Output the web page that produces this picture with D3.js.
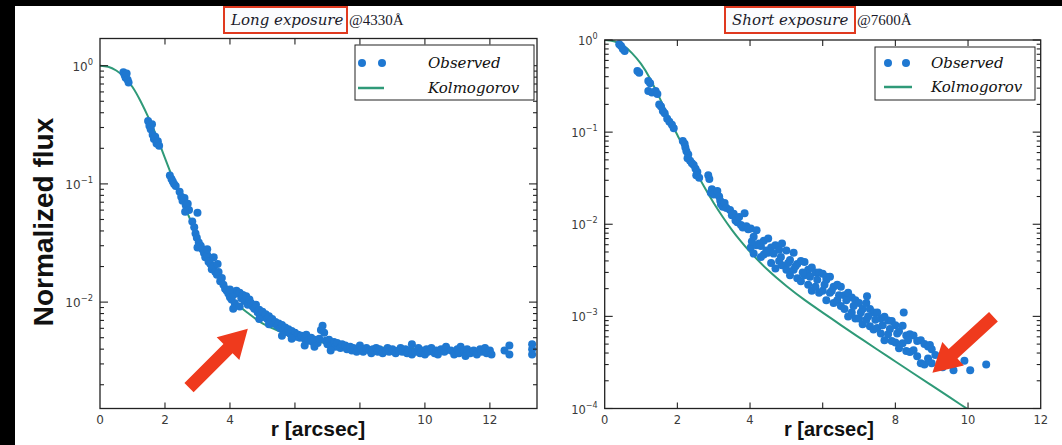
<!DOCTYPE html>
<html><head><meta charset="utf-8">
<script src="https://cdn.jsdelivr.net/npm/d3@7"></script>
<style>body{margin:0;background:#fff}svg{display:block}</style>
</head><body>
<svg id="c" width="1062" height="445"></svg>
<script>
// ---------------- DATA ----------------
const xTicks = [0, 2, 4, 6, 8, 10, 12];
const leftHiddenXTickLabels = [6, 8];   // covered by the axis title in the original
const rightHiddenXTickLabels = [6];
const leftYExps = [0, -1, -2];
const rightYExps = [0, -1, -2, -3, -4];
const legendLabels = ["Observed", "Kolmogorov"];
const titlesItalic = ["Long exposure", "Short exposure"];
const titlesWave = ["@4330Å", "@7600Å"];

// Kolmogorov model, left (long exposure @4330Å): [r, flux]
const leftModel = [[0,1],[0.25,0.98],[0.5,0.91],[0.75,0.8],[1,0.66],[1.25,0.5],[1.5,0.36],[1.75,0.25],[2,0.165],[2.25,0.11],[2.5,0.075],[2.75,0.052],[3,0.037],[3.25,0.027],[3.5,0.020],[3.75,0.0145],[4,0.0112],[4.3,0.0092],[4.6,0.0079],[5,0.0066],[5.5,0.0057],[6,0.0051],[6.5,0.0047],[7,0.0045],[8,0.0042],[9,0.0041],[10,0.0040],[11,0.0039],[12,0.0039]];

// Observed, left: [r, flux]
const leftObserved = [
[0.72,0.88],[0.76,0.83],[0.79,0.79],[0.82,0.86],[0.85,0.76],[0.88,0.72],
[1.48,0.34],[1.52,0.31],[1.56,0.29],[1.6,0.32],[1.62,0.26],[1.66,0.24],[1.7,0.25],[1.74,0.22],[1.78,0.23],[1.82,0.21],
[2.15,0.118],[2.2,0.11],[2.24,0.105],[2.28,0.10],[2.33,0.096],
[2.45,0.086],[2.5,0.078],[2.54,0.072],[2.6,0.076],[2.64,0.066],[2.7,0.068],[2.74,0.06],[2.62,0.058],[3.0,0.057],
[2.84,0.048],[2.9,0.043],[2.94,0.038],[2.98,0.035],[3.04,0.032],[3.1,0.03],[3.0,0.029],
[3.15,0.028],[3.2,0.026],[3.24,0.024],[3.3,0.025],[3.34,0.022],[3.4,0.021],[3.44,0.019],[3.5,0.020],[3.55,0.018],[3.6,0.017],[3.65,0.018],[3.7,0.015],[3.75,0.016],[3.8,0.014],[3.85,0.013],[3.3,0.028],[3.5,0.024],[3.62,0.021],
[3.9,0.0125],[3.95,0.0118],[4.0,0.011],[4.05,0.0105],[4.1,0.0115],[4.15,0.0098],[4.2,0.0125],[4.25,0.0118],[4.3,0.012],[4.35,0.0108],[4.4,0.0115],[4.45,0.0102],[4.5,0.0112],[4.55,0.0095],[4.6,0.0105],[4.1,0.0088],[4.3,0.0092],[4.0,0.0128],
[4.65,0.0098],[4.7,0.0092],[4.75,0.0088],[4.8,0.0095],[4.85,0.0082],[4.9,0.0086],[4.95,0.0078],[5.0,0.0083],[5.05,0.0075],[5.1,0.0079],[5.15,0.0072],[5.2,0.0076],[5.25,0.0069],[5.3,0.0072],[5.35,0.0066],[5.4,0.0068],[5.45,0.0063],[4.9,0.0072],[5.2,0.0065],
[5.5,0.0066],[5.55,0.0060],[5.6,0.0064],[5.65,0.0058],[5.7,0.0061],[5.75,0.0056],[5.8,0.0059],[5.85,0.0054],[5.9,0.0057],[5.95,0.0052],[6.0,0.0055],[6.05,0.0051],[6.1,0.0053],[6.15,0.0050],[5.6,0.0052],[5.9,0.0049],
[6.2,0.0052],[6.3,0.0049],[6.35,0.0053],[6.4,0.0047],[6.5,0.0050],[6.55,0.0046],[6.6,0.0048],[6.7,0.0045],[6.75,0.0049],[6.8,0.0058],[6.85,0.0063],[6.9,0.0055],[6.95,0.0047],[7.0,0.0044],[7.05,0.0048],[7.1,0.0043],[7.2,0.0046],[7.25,0.0042],[7.3,0.0045],[7.4,0.0041],[7.45,0.0044],[6.3,0.0043],[6.6,0.0042],[7.1,0.0039],
[7.55,0.0043],[7.6,0.0040],[7.7,0.0042],[7.75,0.0039],[7.8,0.0041],[7.9,0.0038],[8.0,0.0043],[8.05,0.0040],[8.1,0.0038],[8.2,0.0041],[8.3,0.0039],[8.35,0.0037],[8.4,0.0040],[8.5,0.0041],[8.55,0.0038],[8.6,0.0040],[8.7,0.0037],[8.8,0.0039],[8.85,0.0041],[8.9,0.0038],[9.0,0.0040],[9.1,0.0037],[9.2,0.0039],[9.25,0.0041],[9.3,0.0038],[9.4,0.0040],[9.45,0.0037],[9.5,0.0039],[9.6,0.0036],[9.6,0.0044],[9.7,0.0038],[9.8,0.0041],[9.85,0.0037],[9.9,0.0039],[10.0,0.0036],[10.05,0.0040],[10.1,0.0038],[10.2,0.0041],[10.3,0.0037],[10.35,0.0039],[10.4,0.0036],[10.5,0.0040],[10.6,0.0038],[10.65,0.0042],
[10.8,0.0039],[10.9,0.0036],[11.0,0.0040],[11.05,0.0037],[11.1,0.0042],[11.2,0.0038],[11.25,0.0035],[11.3,0.0040],[11.4,0.0037],[11.5,0.0039],[11.6,0.0036],[11.7,0.0040],[11.75,0.0038],[11.85,0.0041],[11.9,0.0037],[12.0,0.0039],[12.05,0.0036],
[12.6,0.0043],[12.45,0.0039],[12.6,0.0036],
[13.3,0.0044],[13.3,0.0040],[13.3,0.0036]
];

// Kolmogorov model, right (short exposure @7600Å): [r, flux]
const rightModel = [[0,1],[0.25,0.97],[0.5,0.88],[0.75,0.72],[1,0.55],[1.25,0.38],[1.5,0.24],[1.75,0.15],[2,0.093],[2.25,0.06],[2.5,0.038],[2.75,0.025],[3,0.017],[3.25,0.012],[3.5,0.0087],[3.75,0.0065],[4,0.00501],[4.5,0.00316],[5,0.00214],[5.5,0.00151],[6,0.0011],[6.5,0.000804],[7,0.000592],[7.5,0.000437],[8,0.000324],[8.5,0.00024],[9,0.000178],[9.5,0.000132],[10,0.0000977],[10.5,0.0000724]];

// Observed, right: [r, flux]
const rightObserved = [
[0.4,0.9],[0.45,0.86],[0.5,0.8],[0.55,0.76],
[0.9,0.46],[0.95,0.44],
[1.2,0.36],[1.25,0.34],[1.2,0.28],[1.3,0.27],[1.4,0.28],[1.45,0.26],
[1.5,0.2],[1.55,0.19],[1.6,0.17],[1.65,0.16],[1.72,0.14],[1.78,0.13],[1.85,0.12],[1.9,0.11],
[2.15,0.08],[2.2,0.075],[2.22,0.068],[2.25,0.062],[2.3,0.057],[2.28,0.052],[2.35,0.049],[2.4,0.046],[2.45,0.044],[2.5,0.04],[2.55,0.037],[2.52,0.034],[2.6,0.032],
[2.85,0.034],[2.88,0.031],
[2.92,0.022],[2.95,0.024],[3.0,0.021],[3.1,0.023],[3.15,0.02],[3.18,0.018],[3.2,0.0165],[3.25,0.0155],[3.3,0.017],[3.35,0.015],[3.45,0.0143],[3.5,0.0125],[3.55,0.013],[3.6,0.011],[3.65,0.0105],[3.7,0.012],[3.85,0.0132],[3.75,0.0098],[3.8,0.0092],[3.9,0.0095],[3.95,0.0088],
[4.02,0.0090],[4.02,0.0056],[4.1,0.0073],[4.1,0.0048],[4.18,0.0086],[4.18,0.0059],[4.3,0.0058],[4.3,0.0044],[4.38,0.0066],[4.38,0.0047],[4.5,0.0070],[4.5,0.0049],[4.58,0.0038],[4.58,0.0056],[4.7,0.0059],[4.7,0.0033],[4.8,0.0053],[4.8,0.0040],[4.88,0.0062],[4.88,0.0036],
[5.0,0.0052],[5.0,0.0032],[5.1,0.0041],[5.1,0.0028],[5.2,0.0049],[5.2,0.0032],[5.3,0.0037],[5.3,0.0026],[5.4,0.0040],[5.4,0.0024],[5.5,0.0039],[5.5,0.0028],[5.6,0.0022],[5.6,0.0032],[5.7,0.0034],[5.7,0.0019],[5.8,0.0030],[5.8,0.0021],[5.9,0.0030],[5.9,0.0018],
[6.0,0.0029],[6.0,0.0019],[6.1,0.0025],[6.1,0.0015],[6.1,0.0027],[6.2,0.0027],[6.2,0.0018],[6.3,0.0021],[6.3,0.0014],[6.4,0.0022],[6.4,0.0015],[6.5,0.0021],[6.5,0.0013],[6.6,0.0012],[6.6,0.0017],[6.7,0.0018],[6.7,0.0010],[6.8,0.0016],[6.8,0.0011],[6.9,0.0015],[6.9,0.00095],
[7.0,0.0014],[7.0,0.00095],[7.1,0.0012],[7.1,0.00082],[7.2,0.0014],[7.2,0.00092],[7.22,0.00165],[7.3,0.0012],[7.3,0.00078],[7.4,0.0011],[7.4,0.00072],[7.5,0.0011],[7.5,0.00075],[7.6,0.00065],[7.6,0.00095],[7.7,0.00099],[7.7,0.00055],[7.8,0.00090],[7.8,0.00064],[7.9,0.00089],[7.9,0.00054],
[8.0,0.00080],[8.0,0.00052],[8.1,0.00069],[8.1,0.00045],[8.2,0.00079],[8.2,0.00051],[8.23,0.0011],[8.3,0.00062],[8.3,0.00042],[8.4,0.00064],[8.4,0.00041],[8.5,0.00062],[8.5,0.00043],[8.6,0.00037],[8.6,0.00054],[8.7,0.00055],[8.7,0.00031],[8.8,0.00050],[8.8,0.00030],[8.9,0.00047],[8.9,0.00035],[8.95,0.00049],
[9.0,0.00044],[9.0,0.00031],[9.1,0.00038],[9.3,0.00033],[9.3,0.00028],[9.6,0.00026],[9.9,0.00033],[10.06,0.00026],[10.5,0.0003],
[4.05,0.0065],[4.25,0.0062],[4.45,0.0052],[4.65,0.0048],[4.85,0.0044],[5.05,0.0038],[5.25,0.0035],[5.45,0.0030],[5.65,0.0027],[5.85,0.0025],[6.05,0.0022],[6.25,0.0019],[6.45,0.0017],[6.65,0.0015],[6.85,0.0013],[7.05,0.0011],[7.25,0.0010],[7.45,0.00092],[7.65,0.00080],[7.85,0.00073],[8.05,0.00065],[8.35,0.00055]
];

// Arrow annotations in data space: [tail r, tail flux, tip r, tip flux]
const leftArrow = [2.74, 0.00189, 4.55, 0.00594];
const rightArrow = [10.7, 0.00099, 9.02, 0.000245];

// ---------------- DRAW ----------------
const svg = d3.select('#c');
svg.append('rect').attr('width',1062).attr('height',445).attr('fill','#fff');
svg.append('rect').attr('x',0).attr('y',0).attr('width',1062).attr('height',6).attr('fill','#000');
svg.append('rect').attr('x',0).attr('y',0).attr('width',15).attr('height',445).attr('fill','#000');

const DOT = '#1f78d1', LINE = '#2f9a78', RED = '#ef3a1d', AX = '#222';

const panels = [
  {key:'L', obs:leftObserved, model:leftModel, yExps:leftYExps, arrow:leftArrow, hidden:leftHiddenXTickLabels,
   xDomain:[0,13.45], yDomain:[Math.pow(10,-2.9), Math.pow(10,0.23)],
   box:{l:100,r:537,t:38.5,b:408.5}, tickFont:12, labelFont:21, xLabelX:318,
   title:{boxX:224,boxW:123,textX:231,waveX:349},
   legend:{x:355,y:45,w:179,h:55,dot1:362,dot2:382,lineX1:358,lineX2:384,textX:428,row1:63,row2:88}},
  {key:'R', obs:rightObserved, model:rightModel, yExps:rightYExps, arrow:rightArrow, hidden:rightHiddenXTickLabels,
   xDomain:[0,12], yDomain:[1e-4,1],
   box:{l:604.7,r:1040.7,t:40,b:408.5}, tickFont:11.5, labelFont:20, xLabelX:829,
   title:{boxX:725,boxW:130,textX:732,waveX:857},
   legend:{x:875,y:47,w:160,h:53,dot1:888,dot2:906,lineX1:884,lineX2:912,textX:931,row1:63,row2:87}}
];

panels.forEach((p, i) => {
  const b = p.box;
  const g = svg.append('g');
  const x = d3.scaleLinear().domain(p.xDomain).range([b.l, b.r]);
  const y = d3.scaleLog().domain(p.yDomain).range([b.b, b.t]);

  const clipId = 'clip' + p.key;
  g.append('clipPath').attr('id', clipId).append('rect')
    .attr('x', b.l).attr('y', b.t).attr('width', b.r - b.l).attr('height', b.b - b.t);
  const plot = g.append('g').attr('clip-path', `url(#${clipId})`);

  // model curve
  const line = d3.line().x(d => x(d[0])).y(d => y(d[1])).curve(d3.curveNatural);
  plot.append('path').datum(p.model).attr('d', line)
    .attr('fill','none').attr('stroke', LINE).attr('stroke-width', 2);

  // observed points
  plot.selectAll('circle.obs').data(p.obs).enter().append('circle')
    .attr('class','obs')
    .attr('cx', d => x(d[0])).attr('cy', d => y(d[1])).attr('r', 4)
    .attr('fill', DOT);

  // arrow annotation
  const [r0, f0, r1, f1] = p.arrow;
  const x0 = x(r0), y0 = y(f0), x1 = x(r1), y1 = y(f1);
  const dx = x1 - x0, dy = y1 - y0, len = Math.hypot(dx, dy);
  const ux = dx/len, uy = dy/len, nx = -uy, ny = ux;
  const sw = 6.5, hw = 16, hl = 28;
  const bx = x1 - ux*hl, by = y1 - uy*hl;
  const pts = [
    [x0 + nx*sw, y0 + ny*sw], [bx + nx*sw, by + ny*sw], [bx + nx*hw, by + ny*hw],
    [x1, y1], [bx - nx*hw, by - ny*hw], [bx - nx*sw, by - ny*sw], [x0 - nx*sw, y0 - ny*sw]
  ];
  g.append('path').attr('d', 'M' + pts.map(q => q.join(',')).join('L') + 'Z').attr('fill', RED);

  // frame
  g.append('rect').attr('x', b.l).attr('y', b.t).attr('width', b.r - b.l).attr('height', b.b - b.t)
    .attr('fill','none').attr('stroke', AX).attr('stroke-width', 1.3);

  // x ticks (inward, bottom and top)
  const ticks = g.append('g').attr('stroke', AX).attr('stroke-width', 1.1);
  xTicks.forEach(v => {
    const xv = x(v);
    if (xv > b.l + 1 && xv < b.r - 1) {
      ticks.append('line').attr('x1', xv).attr('x2', xv).attr('y1', b.b).attr('y2', b.b - 6);
      ticks.append('line').attr('x1', xv).attr('x2', xv).attr('y1', b.t).attr('y2', b.t + 6);
    }
    if (p.hidden.includes(v)) return;
    g.append('text').attr('x', xv).attr('y', b.b + 15).attr('text-anchor','middle')
      .attr('font-family','DejaVu Sans, sans-serif').attr('font-size', p.tickFont).attr('fill','#3a3a3a')
      .text(v);
  });

  // y log ticks
  const [lo, hi] = p.yDomain;
  const eLo = Math.floor(Math.log10(lo)), eHi = Math.ceil(Math.log10(hi));
  for (let e = eLo; e <= eHi; e++) {
    for (let m = 1; m <= 9; m++) {
      const v = m * Math.pow(10, e);
      if (v < lo * 0.999 || v > hi * 1.001) continue;
      const yv = y(v), L = m === 1 ? 8 : 4;
      ticks.append('line').attr('x1', b.l).attr('x2', b.l + L).attr('y1', yv).attr('y2', yv);
      ticks.append('line').attr('x1', b.r).attr('x2', b.r - L).attr('y1', yv).attr('y2', yv);
    }
  }
  p.yExps.forEach(e => {
    const yv = y(Math.pow(10, e));
    const t = g.append('text').attr('x', b.l - 7).attr('y', yv + 5).attr('text-anchor','end')
      .attr('font-family','DejaVu Sans, sans-serif').attr('font-size', p.tickFont).attr('fill','#3a3a3a');
    t.append('tspan').text('10');
    t.append('tspan').attr('dy', -6).attr('font-size', p.tickFont * 0.7).text(e === 0 ? '0' : '\u2212' + Math.abs(e));
  });

  // x label
  g.append('text').attr('x', p.xLabelX).attr('y', 436).attr('text-anchor','middle')
    .attr('font-family','Liberation Sans, Arial, sans-serif').attr('font-weight','bold')
    .attr('font-size', p.labelFont).attr('fill','#111').text('r [arcsec]');

  // title
  const T = p.title;
  g.append('rect').attr('x', T.boxX).attr('y', 7).attr('width', T.boxW).attr('height', 26)
    .attr('fill','#fbfcfe').attr('stroke', '#e0391f').attr('stroke-width', 2);
  g.append('text').attr('x', T.textX).attr('y', 25)
    .attr('font-family','DejaVu Serif, serif').attr('font-style','italic').attr('font-size', 15)
    .attr('fill','#1a1a2a').text(titlesItalic[i]);
  g.append('text').attr('x', T.waveX).attr('y', 25)
    .attr('font-family','Liberation Serif, serif').attr('font-size', 15)
    .attr('fill','#1a1a2a').text(titlesWave[i]);

  // legend
  const Lg = p.legend;
  g.append('rect').attr('x', Lg.x).attr('y', Lg.y).attr('width', Lg.w).attr('height', Lg.h)
    .attr('fill','#fff').attr('stroke', AX).attr('stroke-width', 1);
  [Lg.dot1, Lg.dot2].forEach(cx => g.append('circle').attr('cx', cx).attr('cy', Lg.row1).attr('r', 4).attr('fill', DOT));
  g.append('line').attr('x1', Lg.lineX1).attr('x2', Lg.lineX2).attr('y1', Lg.row2).attr('y2', Lg.row2)
    .attr('stroke', LINE).attr('stroke-width', 2.5);
  [Lg.row1, Lg.row2].forEach((ry, k) => g.append('text').attr('x', Lg.textX).attr('y', ry + 5)
    .attr('font-family','DejaVu Serif, serif').attr('font-style','italic').attr('font-size', 15)
    .attr('fill','#111').text(legendLabels[k]));
});

// shared y label
svg.append('text').attr('transform','translate(53,222) rotate(-90)').attr('text-anchor','middle')
  .attr('font-family','Liberation Sans, Arial, sans-serif').attr('font-weight','bold')
  .attr('font-size', 28).attr('fill','#111').text('Normalized flux');
</script>
</body></html>
